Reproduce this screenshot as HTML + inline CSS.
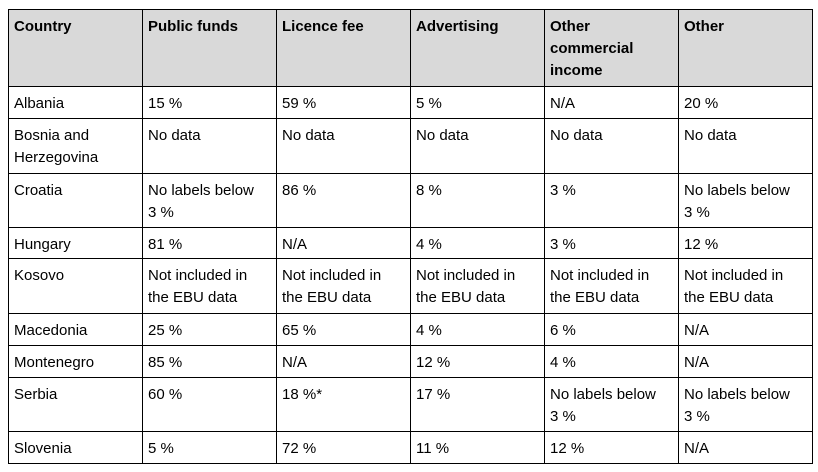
<!DOCTYPE html>
<html><head><meta charset="utf-8"><style>
body{margin:0;width:818px;height:472px;background:#fff;font-family:"Liberation Sans",Arial,sans-serif;font-size:15px;color:#000;overflow:hidden}
.c{position:absolute;box-sizing:border-box;border:1px solid #000;padding:6px 5px 0 5px;line-height:22px}
.h{background:#d9d9d9;font-weight:bold}
</style></head><body>
<div id="t"></div>
<script>
var cols=[8,142,276,410,544,678,812];
var rows=[9,86,118,173,227,258,313,345,377,431,463];
var data=[
["Country","Public funds","Licence fee","Advertising","Other commercial income","Other"],
["Albania","15 %","59 %","5 %","N/A","20 %"],
["Bosnia and Herzegovina","No data","No data","No data","No data","No data"],
["Croatia","No labels below 3&nbsp;%","86 %","8 %","3 %","No labels below 3&nbsp;%"],
["Hungary","81 %","N/A","4 %","3 %","12 %"],
["Kosovo","Not included in the EBU data","Not included in the EBU data","Not included in the EBU data","Not included in the EBU data","Not included in the EBU data"],
["Macedonia","25 %","65 %","4 %","6 %","N/A"],
["Montenegro","85 %","N/A","12 %","4 %","N/A"],
["Serbia","60 %","18 %*","17 %","No labels below 3&nbsp;%","No labels below 3&nbsp;%"],
["Slovenia","5 %","72 %","11 %","12 %","N/A"]];
var h="";
for(var r=0;r<data.length;r++)for(var c=0;c<6;c++){
h+='<div class="c'+(r==0?' h':'')+'" style="left:'+cols[c]+'px;top:'+rows[r]+'px;width:'+(cols[c+1]-cols[c]+1)+'px;height:'+(rows[r+1]-rows[r]+1)+'px">'+data[r][c]+'</div>';}
document.getElementById("t").innerHTML=h;
</script>
</body></html>
